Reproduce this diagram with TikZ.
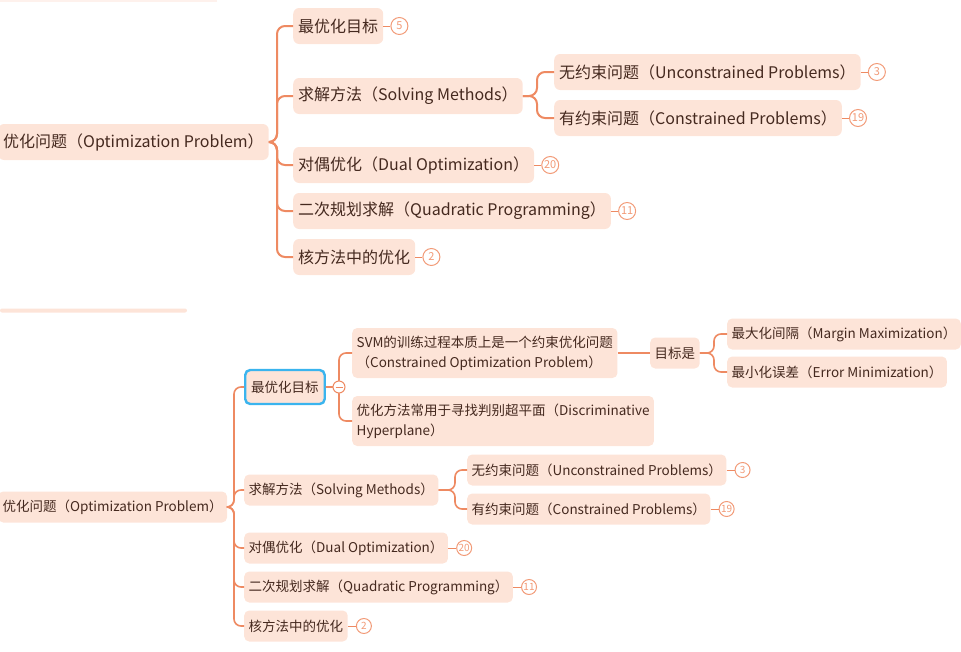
\documentclass[tikz,border=0pt]{standalone}
\usepackage{fontspec}
\setmainfont{Noto Sans CJK SC}
\usetikzlibrary{positioning}
\definecolor{boxfill}{HTML}{FDE4D8}
\definecolor{linecol}{HTML}{EE8A62}
\definecolor{inkcol}{HTML}{45291F}
\definecolor{badgecol}{HTML}{F29B78}
\definecolor{selcol}{HTML}{3AB4EE}
\tikzset{
  topic/.style={anchor=west, fill=boxfill, text=inkcol, rounded corners=6pt,
    inner xsep=5pt, inner ysep=0pt, minimum height=36pt,
    font=\fontsize{16}{19}\selectfont},
  subtopic/.style={topic, rounded corners=5pt, inner xsep=4.5pt, minimum height=31pt,
    font=\fontsize{13.5}{20}\selectfont},
  conn/.style={draw=linecol, line width=2pt, rounded corners=8pt},
  subconn/.style={conn, line width=1.6pt, rounded corners=7pt},
  badge/.style={circle, draw=badgecol, line width=1pt, fill=white, text=badgecol,
    minimum size=17pt, inner sep=0pt, font=\fontsize{11}{11}\selectfont},
  subbadge/.style={badge, minimum size=15pt, font=\fontsize{10}{10}\selectfont}
}
\begin{document}
\begin{tikzpicture}[x=1pt,y=-1pt]
  \useasboundingbox (0,0) rectangle (961,651);
  %Restos de arriba
  \fill[boxfill!50] (0,-10) rectangle (217,1.5);
  \fill[boxfill, rounded corners=2pt] (0,308.5) rectangle (187,312.5);

  %Mapa de arriba
  \node[topic] (t0) at (-2,142) {优化问题（Optimization Problem）};
  \coordinate (tj) at (277,142);
  \node[topic] (t1) at (293,26) {最优化目标};
  \node[topic] (t2) at (293,96) {求解方法（Solving Methods）};
  \node[topic] (t21) at (554,72) {无约束问题（Unconstrained Problems）};
  \node[topic] (t22) at (554,118) {有约束问题（Constrained Problems）};
  \node[topic] (t3) at (293,165) {对偶优化（Dual Optimization）};
  \node[topic] (t4) at (293,211) {二次规划求解（Quadratic Programming）};
  \node[topic] (t5) at (293,257) {核方法中的优化};
  \coordinate (t2j) at (537,96);
  %Ramas
  \foreach \c in {t1,t2,t3,t4,t5}
    \draw[conn] (t0.east) -- (tj) |- (\c.west);
  \foreach \c in {t21,t22}
    \draw[conn] (t2.east) -- (t2j) |- (\c.west);
  %Numeros
  \foreach \c/\n in {t1/5,t21/3,t22/19,t3/20,t4/11,t5/2}{
    \node[badge, right=7pt of \c] (n\c) {\n};
    \draw[linecol, line width=1pt] (\c.east) -- (n\c.west);
  }

  %Mapa de abajo
  \node[subtopic] (b0) at (-2,507) {优化问题（Optimization Problem）};
  \coordinate (bj) at (234,507);
  \node[subtopic, draw=selcol, line width=2.4pt, minimum height=34pt, inner xsep=6pt] (b1) at (244,387) {最优化目标};
  \node[subtopic] (b2) at (244,490) {求解方法（Solving Methods）};
  \node[subtopic] (b3) at (244,548) {对偶优化（Dual Optimization）};
  \node[subtopic] (b4) at (244,587) {二次规划求解（Quadratic Programming）};
  \node[subtopic] (b5) at (244,626) {核方法中的优化};
  \node[subtopic, align=left, minimum height=50pt] (b11) at (352,353)
    {SVM的训练过程本质上是一个约束优化问题\\（Constrained Optimization Problem）};
  \node[subtopic, align=left, minimum height=50pt] (b12) at (352,421)
    {优化方法常用于寻找判别超平面（Discriminative\\Hyperplane）};
  \node[subtopic] (b111) at (650,353) {目标是};
  \node[subtopic] (b1111) at (727,334) {最大化间隔（Margin Maximization）};
  \node[subtopic] (b1112) at (727,372) {最小化误差（Error Minimization）};
  \node[subtopic] (b21) at (467,470) {无约束问题（Unconstrained Problems）};
  \node[subtopic] (b22) at (467,509) {有约束问题（Constrained Problems）};
  \coordinate (b1j) at (339,387);
  \coordinate (b11j) at (714,353);
  \coordinate (b2j) at (455,490);
  %Ramas
  \foreach \c in {b1,b2,b3,b4,b5}
    \draw[subconn] (b0.east) -- (bj) |- (\c.west);
  \foreach \c in {b11,b12}
    \draw[subconn] (b1.east) -- (b1j) |- (\c.west);
  \draw[subconn] (b11.east) -- (b111.west);
  \foreach \c in {b1111,b1112}
    \draw[subconn] (b111.east) -- (b11j) |- (\c.west);
  \foreach \c in {b21,b22}
    \draw[subconn] (b2.east) -- (b2j) |- (\c.west);
  %Plegar
  \node[circle, draw=linecol, line width=1pt, fill=white, minimum size=12pt, inner sep=0pt] (fold) at (b1j) {};
  \draw[linecol, line width=1pt] ([xshift=-3.5pt]fold.center) -- ([xshift=3.5pt]fold.center);
  %Numeros
  \foreach \c/\n in {b21/3,b22/19,b3/20,b4/11,b5/2}{
    \node[subbadge, right=8pt of \c] (n\c) {\n};
    \draw[linecol, line width=0.9pt] (\c.east) -- (n\c.west);
  }
\end{tikzpicture}
\end{document}
